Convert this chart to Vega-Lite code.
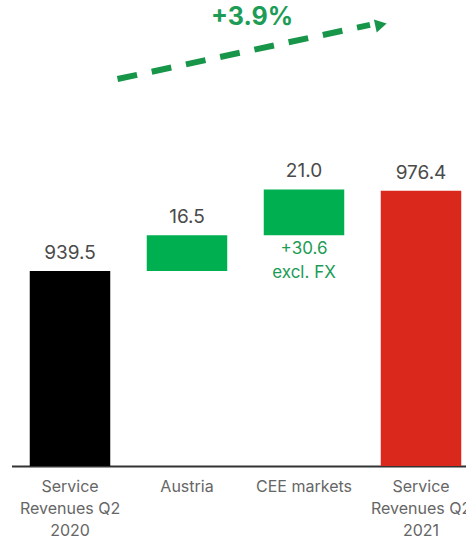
{
  "$schema": "https://vega.github.io/schema/vega-lite/v6.json",
  "width": 468,
  "height": 466,
  "autosize": {"type": "none"},
  "padding": {"left": 11.5, "top": 0, "right": 0, "bottom": 72},
  "config": {"view": {"stroke": null}, "font": "Inter"},
  "datasets": {
    "bars": [
      {"category": "Service Revenues Q2 2020", "start": 0, "end": 939.5, "label": "939.5", "kind": "total2020"},
      {"category": "Austria", "start": 939.5, "end": 956.0, "label": "16.5", "kind": "increase"},
      {"category": "CEE markets", "start": 956.0, "end": 977.0, "label": "21.0", "kind": "increase"},
      {"category": "Service Revenues Q2 2021", "start": 0, "end": 976.4, "label": "976.4", "kind": "total2021"}
    ],
    "note": [
      {"category": "CEE markets", "value": 956.0, "text": "+30.6\nexcl. FX"}
    ],
    "trend": [
      {"from": "Service Revenues Q2 2020", "to": "Service Revenues Q2 2021", "y1": 1027.7, "y2": 1052.6, "mid": "Austria", "ytext": 1056.2, "text": "+3.9%"}
    ]
  },
  "encoding": {
    "x": {
      "field": "category",
      "type": "nominal",
      "sort": ["Service Revenues Q2 2020", "Austria", "CEE markets", "Service Revenues Q2 2021"],
      "scale": {"domain": ["Service Revenues Q2 2020", "Austria", "CEE markets", "Service Revenues Q2 2021"], "paddingInner": 0.312, "paddingOuter": 0.156},
      "axis": {
        "title": null,
        "labelAngle": 0,
        "ticks": false,
        "domainColor": "#333333",
        "domainWidth": 2,
        "labelFontSize": 16,
        "labelColor": "#666666",
        "labelPadding": 12,
        "labelLineHeight": 22,
        "labelExpr": "indexof(datum.label, 'Service') == 0 ? ['Service', 'Revenues Q2', slice(datum.label, -4)] : datum.label"
      }
    }
  },
  "layer": [
    {
      "data": {"name": "bars"},
      "mark": {"type": "bar", "clip": true},
      "encoding": {
        "y": {"field": "start", "type": "quantitative", "scale": {"domain": [850, 1064], "zero": false, "nice": false}, "axis": null},
        "y2": {"field": "end"},
        "color": {"field": "kind", "type": "nominal", "scale": {"domain": ["total2020", "increase", "total2021"], "range": ["#000000", "#00AF50", "#DA291C"]}, "legend": null}
      }
    },
    {
      "data": {"name": "bars"},
      "mark": {"type": "text", "baseline": "alphabetic", "dy": -12, "fontSize": 19, "color": "#4a4a4a", "letterSpacing": 0.5},
      "encoding": {
        "y": {"field": "end", "type": "quantitative"},
        "text": {"field": "label"}
      }
    },
    {
      "data": {"name": "note"},
      "mark": {"type": "text", "baseline": "top", "dy": 6, "fontSize": 17, "lineHeight": 24, "lineBreak": "\n", "color": "#1C9C55"},
      "encoding": {
        "y": {"field": "value", "type": "quantitative"},
        "text": {"field": "text"}
      }
    },
    {
      "data": {"name": "trend"},
      "mark": {"type": "rule", "xOffset": 47.5, "x2Offset": -51, "strokeWidth": 6, "strokeDash": [20, 15], "strokeCap": "butt", "color": "#17964A"},
      "encoding": {
        "x": {"field": "from", "type": "nominal"},
        "x2": {"field": "to"},
        "y": {"field": "y1", "type": "quantitative"},
        "y2": {"field": "y2"}
      }
    },
    {
      "data": {"name": "trend"},
      "mark": {"type": "point", "shape": "triangle-right", "filled": true, "size": 180, "angle": -12, "xOffset": -40, "opacity": 1, "color": "#17964A"},
      "encoding": {
        "x": {"field": "to", "type": "nominal"},
        "y": {"field": "y2", "type": "quantitative"}
      }
    },
    {
      "data": {"name": "trend"},
      "mark": {"type": "text", "baseline": "middle", "xOffset": 65, "fontSize": 25, "fontWeight": "bold", "color": "#1C9C55"},
      "encoding": {
        "x": {"field": "mid", "type": "nominal"},
        "y": {"field": "ytext", "type": "quantitative"},
        "text": {"field": "text"}
      }
    }
  ]
}
